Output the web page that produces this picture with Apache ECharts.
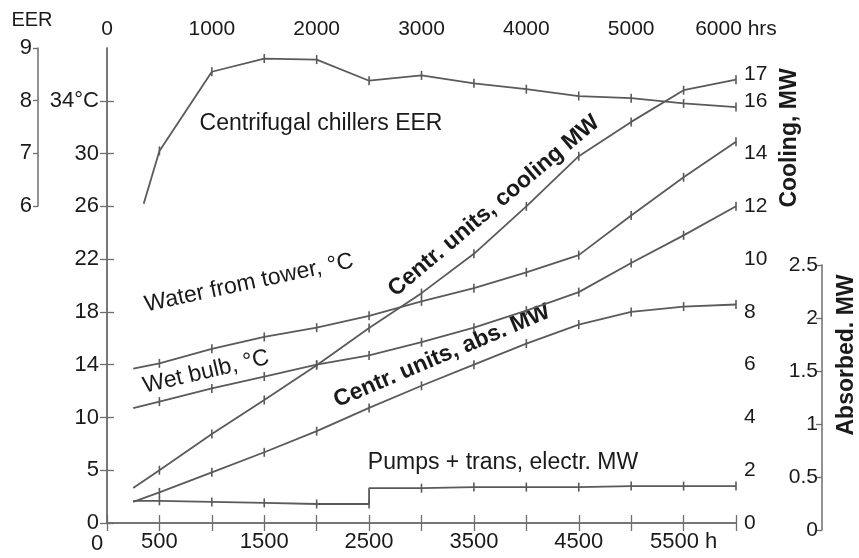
<!DOCTYPE html>
<html>
<head>
<meta charset="utf-8">
<script src="https://cdn.jsdelivr.net/npm/echarts@6/dist/echarts.min.js"></script>
<style>
html, body { margin: 0; padding: 0; background: #fff; }
#chart { width: 859px; height: 558px; }
</style>
</head>
<body>
<div id="chart"></div>
<script>
// operating hours (duration curve), one point every 500 h
var hours = [250, 500, 1000, 1500, 2000, 2500, 3000, 3500, 4000, 4500, 5000, 5500, 6000];
var eerHours = [350, 500, 1000, 1500, 2000, 2500, 3000, 3500, 4000, 4500, 5000, 5500, 6000];
var pumpHours = [250, 500, 1000, 1500, 2000, 2500, 2500, 3000, 3500, 4000, 4500, 5000, 5500, 6000];

var eer = [6.05, 7.05, 8.55, 8.8, 8.78, 8.38, 8.48, 8.33, 8.22, 8.09, 8.05, 7.95, 7.88];
var waterTower = [13.7, 14.1, 15.2, 16.1, 16.8, 17.7, 18.8, 19.8, 21.0, 22.3, 25.3, 28.2, 30.9];   // °C
var wetBulb = [10.7, 11.2, 12.2, 13.1, 14.0, 14.7, 15.7, 16.8, 18.1, 19.5, 21.7, 23.8, 26.0];      // °C
var coolingMW = [1.33, 2.0, 3.37, 4.66, 5.98, 7.39, 8.71, 10.2, 12.0, 13.9, 15.2, 16.4, 16.8];
var absorbedMW = [0.20, 0.29, 0.48, 0.67, 0.87, 1.09, 1.30, 1.50, 1.70, 1.88, 2.0, 2.05, 2.07];
var pumpsMW = [0.21, 0.21, 0.20, 0.19, 0.18, 0.18, 0.33, 0.33, 0.34, 0.34, 0.34, 0.35, 0.35, 0.35];

// tick labels
var tempTicks = [0, 5, 10, 14, 18, 22, 26, 30, 34];   // unevenly spaced °C scale
var coolTicks = [0, 2, 4, 6, 8, 10, 12, 14, 16, 17];
var eerTicks = [6, 7, 8, 9];
var topHourTicks = [0, 1000, 2000, 3000, 4000, 5000, 6000];
var bottomHourTicks = [0, 500, 1500, 2500, 3500, 4500, 5500];

var FONT = '"Liberation Sans", Arial, sans-serif';
var LINE = '#5a5a5a';
var AXIS = '#6e6e6e';
var TXT = '#1a1a1a';

// °C -> position on the piecewise left scale (one step per tick label)
function toSlot(t) {
	for (var i = 0; i < tempTicks.length - 1; i++) {
		if (t <= tempTicks[i + 1]) {
			return i + (t - tempTicks[i]) / (tempTicks[i + 1] - tempTicks[i]);
		}
	}
	return tempTicks.length - 1 + (t - tempTicks[tempTicks.length - 1]) / 4;
}

function points(xs, ys, conv) {
	return xs.map(function (h, i) {
		var tick = h % 500 === 0 && !(i > 0 && xs[i - 1] === h);
		return { value: [h, conv ? conv(ys[i]) : ys[i]], symbol: tick ? 'rect' : 'none' };
	});
}

function curve(name, yIndex, data) {
	return {
		name: name, type: 'line', xAxisIndex: 0, yAxisIndex: yIndex, data: data,
		symbol: 'rect', symbolSize: [1.6, 9], silent: true,
		lineStyle: { color: LINE, width: 1.8 },
		itemStyle: { color: LINE },
		z: 3
	};
}

function label(size) {
	return { color: TXT, fontFamily: FONT, fontSize: size };
}

var chart = echarts.init(document.getElementById('chart'));

var option = {
	animation: false,
	backgroundColor: '#fff',
	grid: [
		{ left: 107, right: 123, top: 48, bottom: 35 },
		{ left: 38, width: 1, top: 48, height: 158 },
		{ left: 822, width: 1, top: 265, bottom: 28 }
	],
	xAxis: [
		{
			gridIndex: 0, type: 'value', position: 'bottom', min: 0, max: 6000, interval: 500,
			axisLine: { lineStyle: { color: AXIS, width: 1.5 } },
			axisTick: { inside: true, length: 8, lineStyle: { color: AXIS, width: 1.3 } },
			axisLabel: Object.assign(label(22), {
				margin: 8,
				customValues: bottomHourTicks,
				formatter: function (v) {
					if (v === 0) return '{z|0}';
					return v === 5500 ? '5500 h' : String(v);
				},
				rich: { z: { fontSize: 22, fontFamily: FONT, color: TXT, padding: [2, 20, 0, 0] } }
			}),
			splitLine: { show: false }
		},
		{
			gridIndex: 0, type: 'value', position: 'top', min: 0, max: 6000, interval: 500,
			axisLine: { lineStyle: { color: AXIS, width: 1.5 } },
			axisTick: { inside: true, length: 8, lineStyle: { color: AXIS, width: 1.3 } },
			axisLabel: Object.assign(label(21), {
				margin: 8,
				customValues: topHourTicks,
				formatter: function (v) { return v === 6000 ? '6000 hrs' : String(v); }
			}),
			splitLine: { show: false }
		},
		{ gridIndex: 1, type: 'value', show: false },
		{ gridIndex: 2, type: 'value', show: false }
	],
	yAxis: [
		{
			// temperature, °C (uneven scale)
			gridIndex: 0, type: 'value', position: 'left', min: 0, max: 9, interval: 1,
			axisLine: { show: true, lineStyle: { color: AXIS, width: 1.5 } },
			axisTick: { inside: true, length: 7, customValues: [0, 1, 2, 3, 4, 5, 6, 7, 8], lineStyle: { color: AXIS, width: 1.3 } },
			axisLabel: Object.assign(label(22), {
				margin: 8,
				customValues: [0, 1, 2, 3, 4, 5, 6, 7, 8],
				formatter: function (v) { return tempTicks[v] + (v === 8 ? '°C' : ''); }
			}),
			splitLine: { show: false }
		},
		{
			// cooling, MW
			gridIndex: 0, type: 'value', position: 'right', min: 0, max: 18, interval: 1,
			axisLine: { show: true, lineStyle: { color: AXIS, width: 1.5 } },
			axisTick: { inside: true, length: 7, customValues: [0, 2, 4, 6, 8, 10, 12, 14, 16], lineStyle: { color: AXIS, width: 1.3 } },
			axisLabel: Object.assign(label(21), { margin: 8, customValues: coolTicks }),
			splitLine: { show: false }
		},
		{ gridIndex: 0, type: 'value', min: 0, max: 9, show: false },      // EER
		{ gridIndex: 0, type: 'value', min: 0, max: 4.5, show: false },    // absorbed MW
		{
			gridIndex: 1, type: 'value', position: 'left', min: 6, max: 9, interval: 1,
			axisLine: { show: true, lineStyle: { color: AXIS, width: 1.5 } },
			axisTick: { length: 5, lineStyle: { color: AXIS, width: 1.3 } },
			axisLabel: Object.assign(label(22), { margin: 6, customValues: eerTicks }),
			splitLine: { show: false }
		},
		{
			gridIndex: 2, type: 'value', position: 'left', min: 0, max: 2.5, interval: 0.5,
			axisLine: { show: true, lineStyle: { color: AXIS, width: 1.5 } },
			axisTick: { length: 6, lineStyle: { color: AXIS, width: 1.3 } },
			axisLabel: Object.assign(label(21), { margin: 4 }),
			splitLine: { show: false }
		}
	],
	series: [
		curve('Centrifugal chillers EER', 2, points(eerHours, eer)),
		curve('Water from tower, °C', 0, points(hours, waterTower, toSlot)),
		curve('Wet bulb, °C', 0, points(hours, wetBulb, toSlot)),
		curve('Centr. units, cooling MW', 1, points(hours, coolingMW)),
		curve('Centr. units, abs. MW', 3, points(hours, absorbedMW)),
		curve('Pumps + trans, electr. MW', 3, points(pumpHours, pumpsMW))
	],
	graphic: [
		{ type: 'text', x: 32, y: 20, style: { text: 'EER', font: '20px ' + FONT, fill: TXT, align: 'center', verticalAlign: 'middle' } },
		{ type: 'text', x: 321, y: 124, style: { text: 'Centrifugal chillers EER', font: '23px ' + FONT, fill: TXT, align: 'center', verticalAlign: 'middle' } },
		{ type: 'text', x: 249, y: 283, rotation: 0.21, style: { text: 'Water from tower, °C', font: '23px ' + FONT, fill: TXT, align: 'center', verticalAlign: 'middle' } },
		{ type: 'text', x: 206, y: 372, rotation: 0.23, style: { text: 'Wet bulb, °C', font: '23px ' + FONT, fill: TXT, align: 'center', verticalAlign: 'middle' } },
		{ type: 'text', x: 494, y: 206, rotation: 0.70, style: { text: 'Centr. units, cooling MW', font: 'bold 23px ' + FONT, fill: TXT, align: 'center', verticalAlign: 'middle' } },
		{ type: 'text', x: 442, y: 356, rotation: 0.40, style: { text: 'Centr. units, abs. MW', font: 'bold 23px ' + FONT, fill: TXT, align: 'center', verticalAlign: 'middle' } },
		{ type: 'text', x: 503, y: 463, style: { text: 'Pumps + trans, electr. MW', font: '23px ' + FONT, fill: TXT, align: 'center', verticalAlign: 'middle' } },
		{ type: 'text', x: 790, y: 138, rotation: Math.PI / 2, style: { text: 'Cooling, MW', font: 'bold 23px ' + FONT, fill: TXT, align: 'center', verticalAlign: 'middle' } },
		{ type: 'text', x: 847, y: 355, rotation: Math.PI / 2, style: { text: 'Absorbed. MW', font: 'bold 23px ' + FONT, fill: TXT, align: 'center', verticalAlign: 'middle' } }
	]
};

chart.setOption(option);
</script>
</body>
</html>
